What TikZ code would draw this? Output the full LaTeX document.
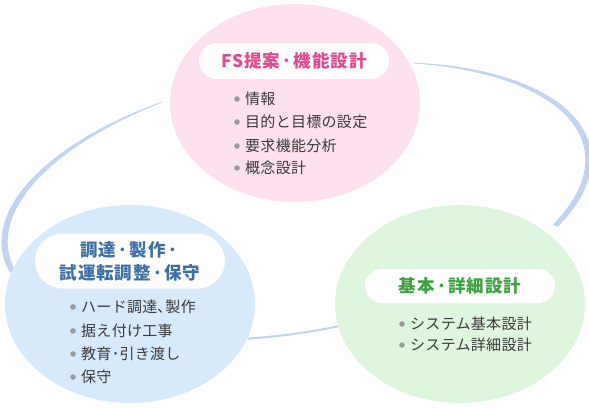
\documentclass[tikz,border=0pt]{standalone}
\usepackage{fontspec}
\usetikzlibrary{shapes.geometric,shapes.misc}
\newfontfamily\jpfont[LetterSpace=2]{Noto Sans CJK JP}
\newfontfamily\jptitle[LetterSpace=5]{Noto Sans CJK JP}
\newcommand\nakadot{\kern2.5pt･\kern2.5pt}
\definecolor{pinkfill}{HTML}{FDE1EF}
\definecolor{bluefill}{HTML}{D6EAFC}
\definecolor{greenfill}{HTML}{DEF6DE}
\definecolor{ringblue}{HTML}{C0D4F2}
\definecolor{pinktext}{HTML}{E6488E}
\definecolor{bluetext}{HTML}{3B6FA6}
\definecolor{greentext}{HTML}{3AA33E}
\definecolor{itemgray}{HTML}{3A3A3A}
\definecolor{dotgray}{HTML}{9A9A9A}
\begin{document}
\begin{tikzpicture}[x=1pt, y=-1pt, line join=round,
  blob/.style={ellipse, inner sep=0, minimum width=250pt, minimum height=198pt},
  pill/.style={rounded rectangle, fill=white, inner sep=0, minimum width=190pt,
    align=center, font=\jptitle\fontsize{17.5}{23}\selectfont\bfseries},
  item/.style={anchor=west, inner sep=0, text=itemgray,
    font=\jpfont\fontsize{15}{17}\selectfont},
  dot/.style={fill=dotgray},
  ring/.style={fill=ringblue},
  declare function={wr(\t)=0.8+5.4*sin(120*(\t+62)/94);
                    wl(\t)=0.8+5.4*sin(110*(247-\t)/76);}
]
  \useasboundingbox (0,0) rectangle (589,408);

  % ring behind the three stages
  \begin{scope}[shift={(296,201)}, rotate=10]
    \fill[ring] plot[domain=-62:32, samples=80, variable=\t]
        ({(296+wr(\t)/2)*cos(\t)}, {(131+wr(\t)/2)*sin(\t)})
      -- plot[domain=32:-62, samples=80, variable=\t]
        ({(296-wr(\t)/2)*cos(\t)}, {(131-wr(\t)/2)*sin(\t)}) -- cycle;
    \fill[ring] plot[domain=171:247, samples=80, variable=\t]
        ({(295+wl(\t)/2)*cos(\t)}, {(131+wl(\t)/2)*sin(\t)})
      -- plot[domain=247:171, samples=80, variable=\t]
        ({(295-wl(\t)/2)*cos(\t)}, {(131-wl(\t)/2)*sin(\t)}) -- cycle;
    \draw[ringblue, line width=2pt] plot[domain=83:104, samples=30, variable=\t]
        ({295*cos(\t)}, {131*sin(\t)});
  \end{scope}

  \coordinate (fs) at (295,103);
  \coordinate (cho) at (130,304);
  \coordinate (kih) at (460,304);

  \node[blob, fill=pinkfill] (fsblob) at (fs) {};
  \node[blob, fill=bluefill] (choblob) at (cho) {};
  \node[blob, fill=greenfill] (kihblob) at (kih) {};

  \node[pill, minimum height=36pt, text=pinktext] (fstitle) at (294,61) {FS提案\nakadot 機能設計};
  \node[pill, minimum height=55pt, text=bluetext] (chotitle) at (130,261) {調達\nakadot 製作\nakadot\\試運転調整\nakadot 保守};
  \node[pill, minimum height=34pt, text=greentext] (kihtitle) at (460,286) {基本\nakadot 詳細設計};

  \node[item] (fs1) at (245,99) {情報};
  \node[item] (fs2) at (245,122) {目的と目標の設定};
  \node[item] (fs3) at (245,146) {要求機能分析};
  \node[item] (fs4) at (245,168) {概念設計};

  \node[item] (cho1) at (81,307) {ハード調達､製作};
  \node[item] (cho2) at (81,331) {据え付け工事};
  \node[item] (cho3) at (81,354) {教育･引き渡し};
  \node[item] (cho4) at (81,377) {保守};

  \node[item] (kih1) at (410,324) {システム基本設計};
  \node[item] (kih2) at (410,345) {システム詳細設計};

  \foreach \n in {fs1,fs2,fs3,fs4,cho1,cho2,cho3,cho4,kih1,kih2}
    \fill[dot] ([xshift=-8pt]\n.west) circle (2.8pt);
\end{tikzpicture}
\end{document}
